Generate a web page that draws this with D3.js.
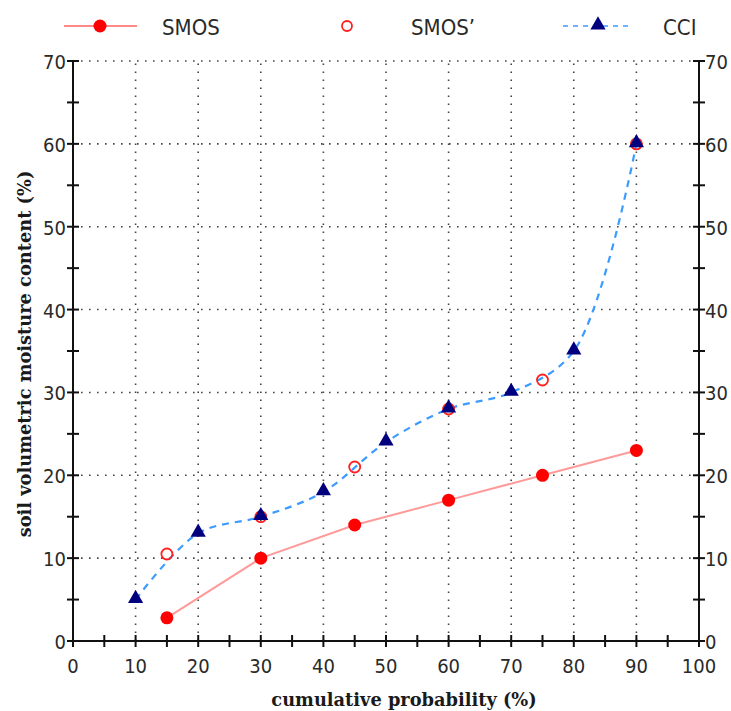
<!DOCTYPE html>
<html>
<head>
<meta charset="utf-8">
<script src="https://cdn.jsdelivr.net/npm/d3@7"></script>
<style>
    body { margin: 0; background: #fff; }
    .tick-label { font-family: "DejaVu Sans Condensed", "Liberation Sans Narrow", sans-serif; font-size: 20px; fill: #2a2a2a; }
    .axis-title { font-family: "DejaVu Serif", "Liberation Serif", serif; font-weight: bold; font-size: 17.8px; fill: #1a1a1a; }
    .legend { font-family: "DejaVu Sans Condensed", "Liberation Sans Narrow", sans-serif; font-size: 22px; fill: #2a2a2a; }
</style>
</head>
<body>
<div id="chart"></div>
<script>
// cumulative probability (%) and soil moisture (%)
let smosX = [15, 30, 45, 60, 75, 90];
let smosY = [2.8, 10, 14, 17, 20, 23];
let smos2X = [15, 30, 45, 60, 75, 90];
let smos2Y = [10.5, 15, 21, 28, 31.5, 60];
let cciX = [10, 20, 30, 40, 50, 60, 70, 80, 90];
let cciY = [5, 13, 15, 18, 24, 28, 30, 35, 60];
let xTicks = [0, 10, 20, 30, 40, 50, 60, 70, 80, 90, 100];
let yTicks = [0, 10, 20, 30, 40, 50, 60, 70];

function initChart() {
    let svg = d3.select('#chart').append('svg')
        .attr('width', 731)
        .attr('height', 711);

    let x = d3.scaleLinear().domain([0, 100]).range([73, 699]);
    let y = d3.scaleLinear().domain([0, 70]).range([641, 61]);

    // dotted grid
    svg.append('g').selectAll('line.hgrid')
        .data(yTicks.filter(d => d > 0))
        .enter().append('line')
        .attr('x1', x(0)).attr('x2', x(100))
        .attr('y1', d => y(d)).attr('y2', d => y(d))
        .attr('stroke', '#444').attr('stroke-width', 1.6)
        .attr('stroke-dasharray', '1.6,6.4');
    svg.append('g').selectAll('line.vgrid')
        .data(xTicks.filter(d => d > 0 && d < 100))
        .enter().append('line')
        .attr('x1', d => x(d)).attr('x2', d => x(d))
        .attr('y1', y(0)).attr('y2', y(70))
        .attr('stroke', '#444').attr('stroke-width', 1.6)
        .attr('stroke-dasharray', '1.6,6.4');

    // axes lines
    let axisG = svg.append('g').attr('stroke', '#111').attr('stroke-width', 2);
    axisG.append('line').attr('x1', x(0)).attr('x2', x(0)).attr('y1', y(0)).attr('y2', y(70));
    axisG.append('line').attr('x1', x(100)).attr('x2', x(100)).attr('y1', y(0)).attr('y2', y(70));
    axisG.append('line').attr('x1', x(0)).attr('x2', x(100)).attr('y1', y(0)).attr('y2', y(0));

    // minor + major ticks every 5, crossing the axes
    let yt = d3.range(0, 71, 5);
    let xt = d3.range(0, 101, 5);
    axisG.selectAll('line.ylt').data(yt).enter().append('line')
        .attr('x1', x(0) - 6).attr('x2', x(0) + 6)
        .attr('y1', d => y(d)).attr('y2', d => y(d));
    axisG.selectAll('line.yrt').data(yt).enter().append('line')
        .attr('x1', x(100) - 6).attr('x2', x(100) + 6)
        .attr('y1', d => y(d)).attr('y2', d => y(d));
    axisG.selectAll('line.xt').data(xt).enter().append('line')
        .attr('x1', d => x(d)).attr('x2', d => x(d))
        .attr('y1', y(0) - 6).attr('y2', y(0) + 6);

    // tick labels
    svg.selectAll('text.yl').data(yTicks).enter().append('text')
        .attr('class', 'tick-label')
        .attr('x', x(0) - 7).attr('y', d => y(d) + 8)
        .attr('text-anchor', 'end')
        .text(d => d);
    svg.selectAll('text.yr').data(yTicks).enter().append('text')
        .attr('class', 'tick-label')
        .attr('x', x(100) + 6).attr('y', d => y(d) + 8)
        .attr('text-anchor', 'start')
        .text(d => d);
    svg.selectAll('text.xl').data(xTicks).enter().append('text')
        .attr('class', 'tick-label')
        .attr('x', d => x(d)).attr('y', y(0) + 32)
        .attr('text-anchor', 'middle')
        .text(d => d);

    // axis titles
    svg.append('text')
        .attr('class', 'axis-title')
        .attr('x', 404).attr('y', 706)
        .attr('text-anchor', 'middle')
        .text('cumulative probability (%)');
    svg.append('text')
        .attr('class', 'axis-title')
        .attr('transform', 'translate(31,354) rotate(-90)')
        .attr('text-anchor', 'middle')
        .text('soil volumetric moisture content (%)');

    // series lines
    let smosPts = smosX.map((d, i) => [d, smosY[i]]);
    let smos2Pts = smos2X.map((d, i) => [d, smos2Y[i]]);
    let cciPts = cciX.map((d, i) => [d, cciY[i]]);

    let line = d3.line().x(d => x(d[0])).y(d => y(d[1]));
    let curve = d3.line().x(d => x(d[0])).y(d => y(d[1])).curve(d3.curveCatmullRom.alpha(0.5));

    svg.append('path')
        .attr('d', line(smosPts))
        .attr('fill', 'none')
        .attr('stroke', '#ff9a9a')
        .attr('stroke-width', 2);
    svg.append('path')
        .attr('d', curve(cciPts))
        .attr('fill', 'none')
        .attr('stroke', '#3d9bff')
        .attr('stroke-width', 2.2)
        .attr('stroke-dasharray', '7,6');

    // markers
    svg.selectAll('circle.smos').data(smosPts).enter().append('circle')
        .attr('cx', d => x(d[0])).attr('cy', d => y(d[1]))
        .attr('r', 6.5).attr('fill', '#ff0000');
    svg.selectAll('circle.smos2').data(smos2Pts).enter().append('circle')
        .attr('cx', d => x(d[0])).attr('cy', d => y(d[1]))
        .attr('r', 5.5).attr('fill', 'none')
        .attr('stroke', '#ff2020').attr('stroke-width', 1.8);
    let tri = d3.symbol().type(d3.symbolTriangle).size(100);
    svg.selectAll('path.cci').data(cciPts).enter().append('path')
        .attr('d', tri)
        .attr('transform', d => 'translate(' + x(d[0]) + ',' + (y(d[1]) - 1) + ')')
        .attr('fill', '#00007f');

    // legend
    let lg = svg.append('g');
    lg.append('line').attr('x1', 64).attr('x2', 137).attr('y1', 26).attr('y2', 26)
        .attr('stroke', '#ff6060').attr('stroke-width', 1.5);
    lg.append('circle').attr('cx', 100).attr('cy', 26).attr('r', 6.5).attr('fill', '#ff0000');
    lg.append('text').attr('class', 'legend').attr('x', 162).attr('y', 35).text('SMOS');

    lg.append('circle').attr('cx', 347).attr('cy', 26).attr('r', 5).attr('fill', 'none')
        .attr('stroke', '#ff2020').attr('stroke-width', 1.8);
    lg.append('text').attr('class', 'legend').attr('x', 411).attr('y', 35).text('SMOS\u2019');

    lg.append('line').attr('x1', 563).attr('x2', 632).attr('y1', 26).attr('y2', 26)
        .attr('stroke', '#3d9bff').attr('stroke-width', 1.5)
        .attr('stroke-dasharray', '5,5');
    lg.append('path').attr('d', tri).attr('transform', 'translate(598,25)').attr('fill', '#00007f');
    lg.append('text').attr('class', 'legend').attr('x', 663).attr('y', 35).text('CCI');
}

initChart();
</script>
</body>
</html>
